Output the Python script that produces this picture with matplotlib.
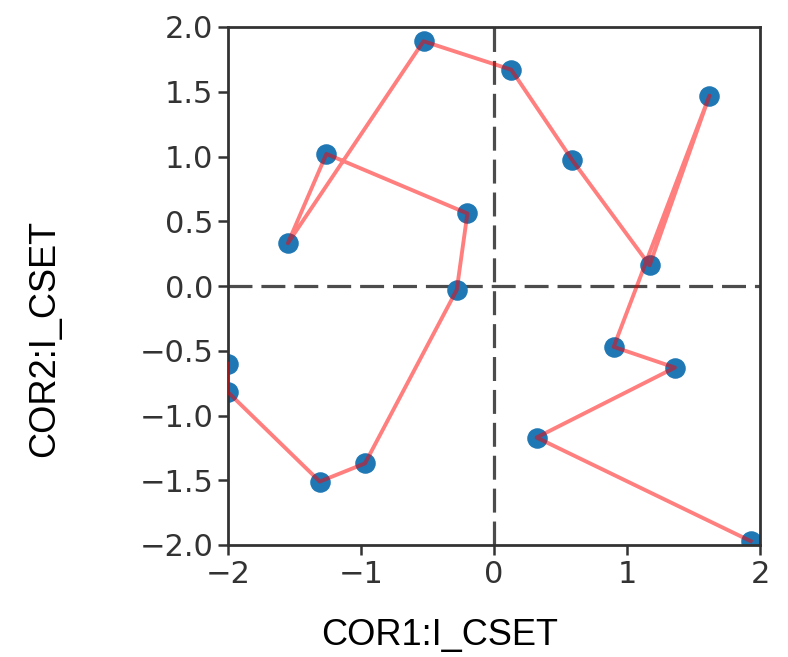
import matplotlib
matplotlib.use("Agg")
import matplotlib.pyplot as plt

# trajectory points, in drawing order
cor1 = [-2.0, -2.0, -1.31, -0.97, -0.28, -0.20, -1.26, -1.55, -0.53, 0.13,
        0.59, 1.17, 1.62, 0.90, 1.36, 0.32, 1.93]
cor2 = [-0.60, -0.82, -1.51, -1.37, -0.03, 0.56, 1.02, 0.33, 1.89, 1.67,
        0.97, 0.16, 1.47, -0.47, -0.63, -1.17, -1.97]

ticks = [-2.0, -1.5, -1.0, -0.5, 0.0, 0.5, 1.0, 1.5, 2.0]

fig = plt.figure(figsize=(7.88, 6.57), dpi=100)
ax = fig.add_axes([228/788, 1 - 545/657, 532/788, 518/657])

ax.scatter(cor1, cor2, s=190, color='#1f77b4', zorder=2)
ax.plot(cor1, cor2, color='red', alpha=0.5, lw=2.8, zorder=3)

ax.axhline(0, color='black', alpha=0.7, lw=2.3, linestyle=(0, (7.5, 2.8)), zorder=1)
ax.axvline(0, color='black', alpha=0.7, lw=2.3, linestyle=(0, (7.5, 2.8)), zorder=1)

ax.set_xlim(-2, 2)
ax.set_ylim(-2, 2)
ax.set_xticks([-2, -1, 0, 1, 2])
ax.set_yticks(ticks)
ax.set_yticklabels(['%.1f' % t if t >= 0 else '\u2212%.1f' % -t for t in ticks])
ax.tick_params(labelsize=22, length=7, width=1.8, color='#333333', labelcolor='#333333')
for sp in ax.spines.values():
    sp.set_linewidth(2)
    sp.set_color('#333333')

fig.text(440/788, 1 - 636/657, 'COR1:I_CSET', fontsize=26, family='Liberation Sans',
         ha='center', va='center')
fig.text(45/788, 1 - 338/657, 'COR2:I_CSET', fontsize=26, family='Liberation Sans',
         ha='center', va='center', rotation=90)

fig.savefig('out.png', dpi=100)
